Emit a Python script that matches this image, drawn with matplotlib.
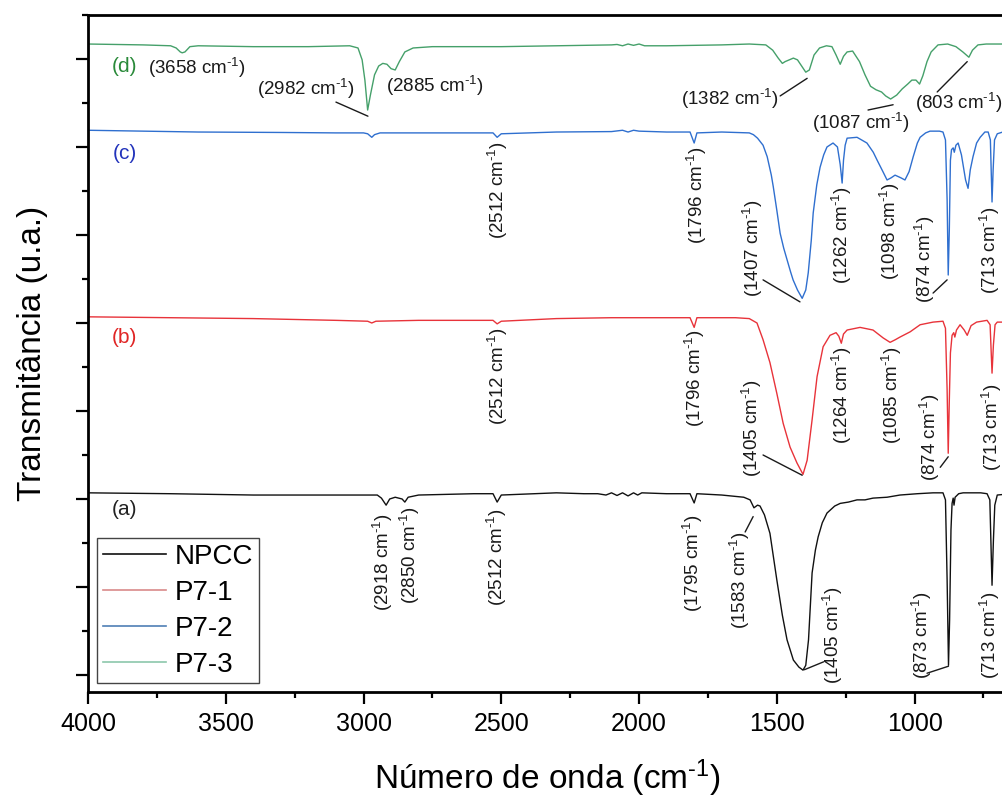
import matplotlib
matplotlib.use("Agg")
import matplotlib.pyplot as plt
from matplotlib.ticker import MultipleLocator

plt.rcParams['font.family'] = ['Liberation Sans', 'DejaVu Sans']
plt.rcParams['mathtext.fontset'] = 'custom'
plt.rcParams['mathtext.rm'] = 'Liberation Sans'
plt.rcParams['mathtext.it'] = 'Liberation Sans:italic'
plt.rcParams['mathtext.bf'] = 'Liberation Sans:bold'

# ---------------- data (wavenumber cm-1, transmittance u.a.) ----------------
# (d) P7-3
wn_d = [4000, 3800, 3700, 3680, 3665, 3658, 3648, 3630, 3600, 3400, 3200, 3050, 3020, 3005,
        2995, 2985, 2975, 2960, 2945, 2930, 2915, 2900, 2885, 2870, 2850, 2820, 2750, 2500,
        2300, 2100, 2080, 2060, 2040, 2020, 2000, 1980, 1900, 1700, 1600, 1540, 1515, 1495,
        1480, 1470, 1455, 1440, 1425, 1410, 1395, 1382, 1365, 1345, 1320, 1300, 1285, 1270,
        1258, 1245, 1225, 1200, 1180, 1160, 1140, 1120, 1105, 1087, 1065, 1045, 1025, 1010,
        995, 982, 970, 955, 940, 915, 880, 850, 825, 803, 790, 770, 740, 650]
t_d = [71.7, 71.6, 71.5, 71.25, 70.8, 70.7, 70.8, 71.4, 71.5, 71.4, 71.4, 71.5, 71.25, 69.9,
       67.6, 64.2, 65.9, 68.2, 69.2, 69.5, 69.4, 68.9, 68.75, 69.7, 70.8, 71.25, 71.4, 71.4,
       71.5, 71.6, 71.65, 71.5, 71.7, 71.55, 71.7, 71.5, 71.5, 71.6, 71.7, 71.6, 71.0, 70.1,
       69.5, 69.7, 69.9, 70.1, 69.9, 69.2, 68.5, 68.75, 70.45, 71.25, 71.5, 71.4, 70.45, 69.4,
       70.3, 70.8, 70.9, 69.7, 68.2, 66.9, 66.5, 66.25, 65.8, 65.45, 65.9, 66.6, 67.15, 67.6,
       67.6, 67.15, 68.1, 69.7, 70.8, 71.6, 71.7, 71.4, 70.8, 70.2, 71.0, 71.6, 71.7, 71.7]

# (c) P7-2
wn_c = [4000, 3800, 3600, 3300, 3100, 3000, 2985, 2970, 2960, 2940, 2800, 2600, 2530, 2515,
        2500, 2300, 2100, 2060, 2040, 2020, 2000, 1900, 1815, 1800, 1790, 1700, 1600, 1585,
        1570, 1550, 1535, 1520, 1513, 1500, 1488, 1475, 1463, 1450, 1441, 1425, 1408, 1395,
        1386, 1375, 1368, 1355, 1343, 1330, 1318, 1296, 1280, 1270, 1263, 1258, 1252, 1245,
        1209, 1173, 1150, 1136, 1115, 1100, 1085, 1071, 1050, 1035, 1020, 1005, 990, 980,
        960, 944, 910, 897, 888, 882, 878, 874, 870, 866, 860, 856, 850, 842, 830, 815, 806,
        798, 788, 775, 762, 745, 733, 725, 719, 715, 710, 700, 680, 650]
t_c = [61.9, 61.8, 61.7, 61.65, 61.6, 61.6, 61.5, 61.1, 61.4, 61.6, 61.6, 61.6, 61.6, 61.1,
       61.5, 61.7, 61.75, 61.9, 61.7, 61.9, 61.8, 61.7, 61.7, 60.45, 61.6, 61.7, 61.6, 61.4,
       61.0, 60.2, 58.9, 56.8, 55.5, 52.8, 50.2, 48.5, 47.2, 45.8, 44.9, 43.75, 42.8, 43.75,
       45.7, 49.4, 52.5, 55.7, 57.7, 59.1, 60.0, 60.45, 60.0, 58.0, 55.9, 58.5, 60.2, 61.0,
       61.1, 60.45, 59.4, 58.5, 57.2, 56.25, 56.5, 56.8, 56.5, 56.25, 57.2, 58.9, 60.45, 61.1,
       61.6, 61.8, 61.8, 61.7, 60.8, 54.0, 45.45, 50.6, 58.5, 59.7, 59.9, 59.4, 60.2, 60.45,
       59.1, 56.25, 55.3, 57.4, 58.9, 60.45, 61.1, 61.7, 61.7, 60.8, 53.75, 57.4, 60.8, 61.5,
       61.7, 61.7]

# (b) P7-1
wn_b = [4000, 3700, 3400, 3100, 2985, 2970, 2955, 2800, 2530, 2515, 2500, 2300, 2100, 2000,
        1815, 1800, 1790, 1650, 1600, 1572, 1550, 1525, 1500, 1477, 1452, 1427, 1405, 1390,
        1372, 1354, 1332, 1307, 1285, 1275, 1266, 1258, 1245, 1198, 1151, 1114, 1089, 1070,
        1053, 1016, 980, 933, 897, 888, 882, 878, 874, 870, 864, 858, 854, 848, 835, 820, 809,
        795, 775, 737, 726, 719, 714, 708, 700, 650]
t_b = [40.7, 40.6, 40.5, 40.3, 40.2, 40.0, 40.2, 40.3, 40.3, 39.9, 40.2, 40.5, 40.6, 40.6,
       40.6, 39.5, 40.6, 40.6, 40.5, 40.0, 38.1, 35.5, 32.0, 28.6, 25.9, 24.1, 22.8, 24.4,
       29.0, 33.9, 37.3, 38.6, 38.9, 38.5, 37.7, 38.75, 39.2, 39.5, 39.2, 38.3, 37.8, 38.1,
       38.4, 39.0, 39.8, 40.1, 40.2, 39.4, 32.4, 25.2, 31.25, 36.6, 38.6, 38.9, 38.4, 39.2,
       39.8, 39.2, 38.6, 39.7, 40.1, 40.3, 39.8, 34.3, 37.5, 39.8, 40.1, 40.1]

# (a) NPCC
wn_a = [4000, 3700, 3400, 3100, 2950, 2935, 2918, 2905, 2885, 2860, 2850, 2838, 2800, 2600,
        2530, 2515, 2500, 2300, 2200, 2150, 2120, 2100, 2080, 2060, 2040, 2020, 2005, 1990,
        1900, 1815, 1800, 1790, 1700, 1620, 1597, 1583, 1570, 1561, 1545, 1525, 1500, 1480,
        1463, 1440, 1420, 1405, 1395, 1385, 1372, 1360, 1350, 1335, 1318, 1290, 1270, 1240,
        1209, 1180, 1151, 1100, 1053, 990, 933, 897, 888, 882, 877, 873, 868, 864, 860, 857,
        853, 840, 824, 760, 737, 727, 719, 714, 709, 700, 650]
t_a = [20.7, 20.6, 20.45, 20.45, 20.45, 20.1, 19.3, 20.0, 20.2, 20.0, 19.65, 20.2, 20.45, 20.6,
       20.6, 19.65, 20.45, 20.7, 20.6, 20.6, 20.45, 20.7, 20.4, 20.7, 20.35, 20.7, 20.45, 20.7,
       20.6, 20.6, 19.55, 20.6, 20.45, 20.2, 19.9, 19.0, 19.3, 19.2, 18.2, 16.1, 10.8, 6.8,
       4.0, 1.7, 0.9, 0.55, 1.1, 4.0, 11.6, 14.2, 15.7, 17.3, 18.4, 19.2, 19.5, 19.65,
       19.9, 19.9, 20.1, 20.2, 20.45, 20.6, 20.7, 20.7, 19.9, 10.8, 1.1, 6.25, 16.5, 19.5, 20.1,
       19.3, 20.2, 20.6, 20.7, 20.7, 20.6, 19.9, 10.2, 15.3, 19.3, 20.45, 20.6]

series_labels = ['NPCC', 'P7-1', 'P7-2', 'P7-3']
curve_colors = ['#111111', '#e8333a', '#2f6fcf', '#45a06a']
legend_colors = ['#111111', '#d98a8a', '#4f7fb5', '#8cc7ab']
letters = ['(a)', '(b)', '(c)', '(d)']
letter_colors = ['#222222', '#e02525', '#2233bb', '#2a8a3a']

CM = r' cm$^{\text{-}1}$)'
# peak labels: (text, wavenumber, value, rotation)
peak_labels_d = [('(3658' + CM, 3604, 69.0, 0), ('(2982' + CM, 3209, 66.6, 0),
                 ('(2885' + CM, 2740, 66.9, 0), ('(1382' + CM, 1670, 65.45, 0),
                 ('(1087' + CM, 1194, 62.7, 0), ('(803' + CM, 840, 65.0, 0)]
peak_labels_c = [('(2512' + CM, 2512, 55.1, 90), ('(1796' + CM, 1789, 54.5, 90),
                 ('(1407' + CM, 1586, 48.5, 90), ('(1262' + CM, 1263, 50.0, 90),
                 ('(1098' + CM, 1089, 50.45, 90), ('(874' + CM, 962, 47.2, 90),
                 ('(713' + CM, 726, 48.3, 90)]
peak_labels_b = [('(2512' + CM, 2512, 34.0, 90), ('(1796' + CM, 1797, 33.75, 90),
                 ('(1405' + CM, 1590, 28.1, 90), ('(1264' + CM, 1263, 31.8, 90),
                 ('(1085' + CM, 1082, 31.8, 90), ('(874' + CM, 944, 27.0, 90),
                 ('(713' + CM, 719, 28.1, 90)]
peak_labels_a = [('(2918' + CM, 2929, 12.8, 90), ('(2850' + CM, 2831, 13.6, 90),
                 ('(2512' + CM, 2515, 13.4, 90), ('(1795' + CM, 1804, 12.7, 90),
                 ('(1583' + CM, 1633, 10.8, 90), ('(1405' + CM, 1296, 4.5, 90),
                 ('(873' + CM, 973, 4.5, 90), ('(713' + CM, 726, 4.5, 90)]
# leader lines: ((x1, y1), (x2, y2))
leaders = [((3100, 65.1), (2984, 63.5)), ((1488, 65.8), (1390, 67.8)),
           ((1169, 64.2), (1078, 64.8)), ((918, 66.25), (809, 69.7)),
           ((1550, 44.9), (1416, 42.4)), ((933, 43.4), (882, 44.9)),
           ((1550, 25.0), (1408, 22.7)), ((907, 23.6), (878, 24.8)),
           ((1615, 16.25), (1586, 18.0)), ((1330, 1.5), (1400, 0.6)),
           ((955, 0.2), (877, 1.0))]

# ---------------- figure ----------------
fig = plt.figure(figsize=(10.03, 8.01), dpi=100)
ax = fig.add_axes([0.0877, 0.1361, 0.9162, 0.8452])

lines = []
for wn, t, c, lab in zip([wn_a, wn_b, wn_c, wn_d], [t_a, t_b, t_c, t_d], curve_colors, series_labels):
    ln, = ax.plot(wn, t, color=c, lw=1.0, label=lab)
    lines.append(ln)

ax.set_xlim(4000, 665)
ax.set_ylim(-1.93, 75.0)

for sp in ['left', 'bottom', 'top']:
    ax.spines[sp].set_linewidth(2.0)
ax.spines['right'].set_visible(False)

ax.xaxis.set_major_locator(MultipleLocator(500))
ax.xaxis.set_minor_locator(MultipleLocator(250))
ax.yaxis.set_major_locator(MultipleLocator(10))
ax.yaxis.set_minor_locator(MultipleLocator(5))
ax.tick_params(which='major', direction='out', length=8.6, width=1.6, labelsize=18, pad=6)
ax.tick_params(which='minor', direction='out', length=4.5, width=1.6)
ax.tick_params(axis='y', which='both', labelleft=False)
ax.tick_params(top=False, right=False, which='both')

ax.set_xlabel(r'Número de onda (cm$^{\text{-}1}$)', fontsize=24, labelpad=15)
ax.set_ylabel('Transmitância (u.a.)', fontsize=24, labelpad=20)

# letters
letter_pos = [(3866, 18.75), (3866, 38.3), (3866, 59.3), (3866, 69.1)]
for txt, col, (x, y) in zip(letters, letter_colors, letter_pos):
    ax.text(x, y, txt, color=col, fontsize=15, ha='center', va='center')

for group in [peak_labels_d, peak_labels_c, peak_labels_b, peak_labels_a]:
    for txt, x, y, rot in group:
        ax.text(x, y, txt, fontsize=13.5, ha='center', va='center', rotation=rot,
                color='#1a1a1a', clip_on=False)

for (p1, p2) in leaders:
    ax.annotate('', xy=p2, xytext=p1,
                arrowprops=dict(arrowstyle='-', color='#1a1a1a', lw=1.0, shrinkA=0, shrinkB=0))

leg = ax.legend(handles=lines, loc='lower left', bbox_to_anchor=(0.0098, 0.013),
                borderaxespad=0, fontsize=20, frameon=True, fancybox=False,
                edgecolor='#444444', framealpha=1, handlelength=2.3, handletextpad=0.3,
                labelspacing=0.36, borderpad=0.2)
leg.get_frame().set_linewidth(1.0)
for hl, c in zip(leg.get_lines(), legend_colors):
    hl.set_color(c)
    hl.set_linewidth(1.2)

fig.savefig('out.png', dpi=100)
